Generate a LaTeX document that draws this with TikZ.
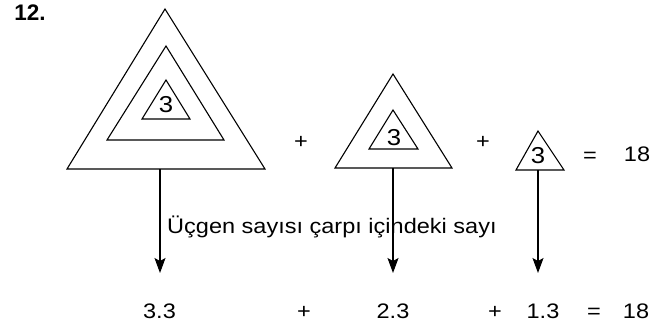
\documentclass[tikz,border=0pt]{standalone}
\usepackage{fontspec}
\setmainfont[FakeStretch=1.12]{Liberation Sans}
\newfontfamily\boldhead{Liberation Sans Bold}
\usetikzlibrary{arrows.meta}
\tikzset{
  tri/.style={draw=black, line width=1.1pt, line join=miter},
  txt/.style={inner sep=0pt, anchor=base, font=\fontsize{21}{24}\selectfont},
  big/.style={inner sep=0pt, anchor=base, font=\fontsize{23}{26}\selectfont},
  arr/.style={draw=black, line width=1.1pt, -{Stealth[length=15pt,width=11pt,inset=3pt]}},
}
\begin{document}
\begin{tikzpicture}[x=1pt,y=-1pt]
\useasboundingbox (0,0) rectangle (662,329);
% heading
\node[inner sep=0pt, anchor=base, font=\boldhead\fontsize{22.5}{25}\selectfont] (num) at (30,20.5) {12.};
% triangle group 1
\draw[tri] (165,9) -- (265,169) -- (67,169) -- cycle;
\draw[tri] (166,46) -- (224,140) -- (107,140) -- cycle;
\draw[tri] (166,80) -- (190,119) -- (142,119) -- cycle;
\node[big] (t1) at (166,113) {3};
\node[txt] (p1) at (301,148) {+};
% triangle group 2
\draw[tri] (393,74) -- (452,168) -- (335,168) -- cycle;
\draw[tri] (393,110) -- (418,149) -- (369,149) -- cycle;
\node[big] (t2) at (394,146) {3};
\node[txt] (p2) at (483,148) {+};
% triangle group 3
\draw[tri] (538,131) -- (564,170) -- (516,170) -- cycle;
\node[big] (t3) at (538,164) {3};
\node[txt] (eq1) at (590,162) {=};
\node[txt] (r1) at (637,161) {18};
% arrows
\coordinate (a1s) at (160,169);
\coordinate (a1e) at (160,273);
\coordinate (a2s) at (393,168);
\coordinate (a2e) at (393,273);
\coordinate (a3s) at (538,170);
\coordinate (a3e) at (538,273);
\draw[arr] (a1s) -- (a1e);
\draw[arr] (a2s) -- (a2e);
\draw[arr] (a3s) -- (a3e);
% label
\node[txt, anchor=base west] (lbl) at (167,233) {Üçgen sayısı çarpı içindeki sayı};
% bottom row
\node[txt] (b1) at (159.5,318) {3.3};
\node[txt] (bp1) at (304,318) {+};
\node[txt] (b2) at (393,318) {2.3};
\node[txt] (bp2) at (495,318) {+};
\node[txt] (b3) at (543,318) {1.3};
\node[txt] (beq) at (594,318) {=};
\node[txt] (b4) at (636,318) {18};
\end{tikzpicture}
\end{document}
